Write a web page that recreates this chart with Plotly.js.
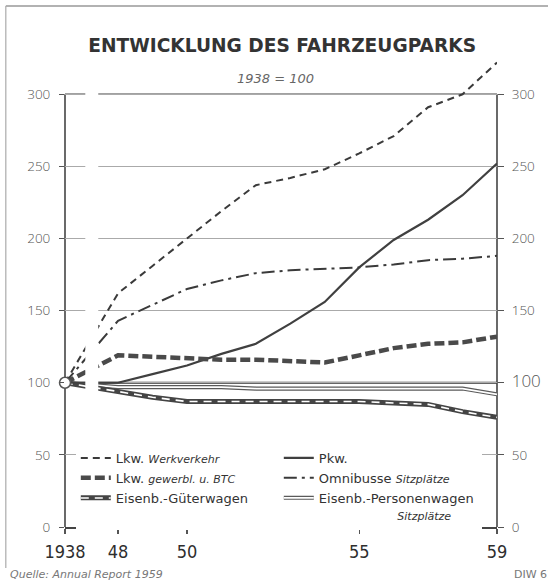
<!DOCTYPE html>
<html>
<head>
<meta charset="utf-8">
<script src="https://cdn.plot.ly/plotly-3.0.1.min.js"></script>
<style>html,body{margin:0;padding:0;background:#fff;}#chart{width:548px;height:582px;}</style>
</head>
<body>
<div id="chart"></div>
<script>
// ---- data (index 1938 = 100) ----
const years = [1938, 1948, 1949, 1950, 1951, 1952, 1953, 1954, 1955, 1956, 1957, 1958, 1959];
const lkwWerkverkehr = [100, 162, 181, 200, 219, 237, 242, 248, 259, 271, 291, 300, 322];
const pkw            = [100, 100, 106, 112, 120, 127, 141, 156, 180, 199, 213, 230, 252];
const lkwGewerbl     = [100, 119, 118, 117, 116, 116, 115, 114, 119, 124, 127, 128, 132];
const omnibusse      = [100, 143, 154, 165, 171, 176, 178, 179, 180, 182, 185, 186, 188];
const gueterwagen    = [100, 94, 90, 87, 87, 87, 87, 87, 87, 86, 85, 80, 76];
const personenwagen  = [100, 97, 97, 97, 97, 96, 96, 96, 96, 96, 96, 96, 92];
const baseYear = 1938, baseIndex = 100;

const yTicks = [0, 50, 100, 150, 200, 250, 300];
const yTickTextRight = ['0', '50', '<span style="font-size:17px">100</span>', '150', '200', '250', '300'];
const xLabelYears = [1938, 1948, 1950, 1955, 1959];
const xLabelText = ['1938', '48', '50', '55', '59'];
const minorYears = [1948, 1949, 1950, 1951, 1952, 1953, 1954, 1955, 1956, 1957, 1958, 1959];
const gridYears = [1950, 1955];
const frameTop = 300;

// broken axis: 1938 is drawn just left of 1948
const BREAK_POS = 1946.46;
const xpos = y => (y === 1938 ? BREAK_POS : y);
const X = years.map(xpos);

const small = s => '<i><span style="font-size:11px">' + s + '</span></i>';
const names = {
  werk: 'Lkw. ' + small('Werkverkehr'),
  pkw: 'Pkw.',
  gew: 'Lkw. ' + small('gewerbl. u. BTC'),
  omni: 'Omnibusse ' + small('Sitzplätze'),
  gueter: 'Eisenb.-Güterwagen',
  pers: 'Eisenb.-Personenwagen<br>' + '&nbsp;'.repeat(19) + small('Sitzplätze')
};

const traces = [
  {x: X, y: personenwagen, name: names.pers, legendrank: 6, mode: 'lines',
   line: {color: '#5a5a5a', width: 4.2}},
  {x: X, y: personenwagen, name: names.pers, legend: 'legend2', legendrank: 2, mode: 'lines',
   line: {color: '#ffffff', width: 1.8}},
  {x: X, y: gueterwagen, name: names.gueter, legendrank: 5, mode: 'lines',
   line: {color: '#444', width: 5}},
  {x: X, y: gueterwagen, name: names.gueter, legend: 'legend2', legendrank: 1, mode: 'lines',
   line: {color: '#ffffff', width: 1.6, dash: '8px,6px'}},
  {x: X, y: pkw, name: names.pkw, legendrank: 2, mode: 'lines',
   line: {color: '#404040', width: 2.2}},
  {x: X, y: lkwGewerbl, name: names.gew, legendrank: 3, mode: 'lines',
   line: {color: '#4a4a4a', width: 4.5, dash: '10px,4px'}},
  {x: X, y: omnibusse, name: names.omni, legendrank: 4, mode: 'lines',
   line: {color: '#3a3a3a', width: 2, dash: '13px,5px,3px,5px'}},
  {x: X, y: lkwWerkverkehr, name: names.werk, legendrank: 1, mode: 'lines',
   line: {color: '#3a3a3a', width: 2, dash: '7px,5px'}},
  {x: [xpos(baseYear)], y: [baseIndex], xaxis: 'x2', yaxis: 'y2', mode: 'markers', showlegend: false,
   cliponaxis: false, marker: {symbol: 'circle', size: 11, color: '#fff', line: {color: '#555', width: 1.5}}}
];

const tickFontY = {family: 'Open Sans', size: 13.5, color: '#555', weight: 300};
const range = [BREAK_POS, 1959];
const yRange = [0, 330];

const legendBase = {
  orientation: 'h', x: 0.025, xanchor: 'left', y: 0.1765, yanchor: 'top',
  entrywidth: 158, entrywidthmode: 'pixels', valign: 'top', tracegroupgap: 0,
  font: {family: 'DejaVu Sans', size: 13, color: '#333'}
};

const frameLine = {color: '#444', width: 1.6};

const layout = {
  width: 548, height: 582,
  margin: {l: 65, r: 51, t: 51, b: 55, pad: 0},
  paper_bgcolor: '#fff', plot_bgcolor: '#fff',
  showlegend: true,
  title: {text: 'ENTWICKLUNG DES FAHRZEUGPARKS', x: 0.515, xanchor: 'center', y: 0.922, yanchor: 'middle',
          font: {family: 'DejaVu Sans', size: 18.6, color: '#333', weight: 'bold'}},
  xaxis: {range: range, tickvals: xLabelYears.map(xpos), ticktext: xLabelText, ticks: 'outside', ticklen: 5,
          tickcolor: '#555', tickwidth: 1.2, showline: true, linecolor: '#444', linewidth: 2, mirror: false,
          showgrid: false, zeroline: false, ticklabelstandoff: 2,
          tickfont: {family: 'DejaVu Sans Condensed', size: 18, color: '#2e2e2e'}},
  xaxis2: {overlaying: 'x', anchor: 'y', range: range, tickvals: minorYears, ticks: 'inside', ticklen: 5,
           tickcolor: '#555', tickwidth: 1.2, showticklabels: false, showline: false, zeroline: false,
           showgrid: false},
  xaxis3: {overlaying: 'x', anchor: 'y', range: range, tickvals: gridYears, ticks: '', showticklabels: false,
           showline: false, zeroline: false, showgrid: true, gridcolor: '#aaa', gridwidth: 1},
  yaxis: {range: yRange, tickvals: yTicks, ticks: 'outside', ticklen: 5, tickcolor: '#555',
          showline: false, showgrid: true, gridcolor: '#aaa', gridwidth: 1,
          zeroline: false, tickfont: tickFontY, ticklabelstandoff: 6},
  yaxis2: {overlaying: 'y', side: 'right', anchor: 'x', range: yRange, tickvals: yTicks, ticktext: yTickTextRight,
           ticks: 'outside', ticklen: 6, tickcolor: '#555', showline: false, showgrid: false,
           zeroline: false, tickfont: tickFontY, ticklabelstandoff: 5},
  legend: Object.assign({}, legendBase, {bgcolor: '#fff'}),
  legend2: Object.assign({}, legendBase, {y: 0.1765 - 40 / 476, bgcolor: 'rgba(0,0,0,0)',
           font: {family: 'DejaVu Sans', size: 13, color: 'rgba(0,0,0,0)'}}),
  shapes: [
    // reference line at index 100
    {type: 'line', xref: 'paper', x0: 0, x1: 1, yref: 'y', y0: baseIndex, y1: baseIndex, layer: 'between',
     line: {color: '#333', width: 2}},
    // chart frame (left, right, top at 300)
    {type: 'line', xref: 'paper', x0: 0, x1: 0, yref: 'y', y0: 0, y1: frameTop, layer: 'between', line: frameLine},
    {type: 'line', xref: 'paper', x0: 1, x1: 1, yref: 'y', y0: 0, y1: frameTop, layer: 'between', line: frameLine},
    {type: 'line', xref: 'paper', x0: 0, x1: 1, yref: 'y', y0: frameTop, y1: frameTop, layer: 'between', line: frameLine},
    // axis break gap
    {type: 'rect', xref: 'paper', x0: 0.047, x1: 0.077, yref: 'paper', y0: -0.012, y1: 0.922, layer: 'above',
     fillcolor: '#fff', line: {width: 0}},
    // scan border (top and left)
    {type: 'line', xref: 'paper', x0: -0.137, x1: 1.2, yref: 'paper', y0: 1.0945, y1: 1.0945,
     line: {color: '#999', width: 1.5}},
    {type: 'line', xref: 'paper', x0: -0.137, x1: -0.137, yref: 'paper', y0: 1.0945, y1: -0.086,
     line: {color: '#aaa', width: 1.2}}
  ],
  annotations: [
    {text: '<i>1938 = 100</i>', xref: 'paper', yref: 'paper', x: 0.488, y: 0.943, yanchor: 'middle',
     showarrow: false, font: {family: 'DejaVu Sans', size: 13, color: '#666'}},
    {text: '<i>Quelle: Annual Report 1959</i>', xref: 'paper', yref: 'paper', x: -0.132, y: -0.1,
     xanchor: 'left', yanchor: 'middle', showarrow: false, font: {family: 'DejaVu Sans', size: 11, color: '#777'}},
    {text: 'DIW 61', xref: 'paper', yref: 'paper', x: 1.035, y: -0.1, xanchor: 'left', yanchor: 'middle',
     showarrow: false, font: {family: 'DejaVu Sans', size: 11, color: '#777'}}
  ]
};

Plotly.newPlot('chart', traces, layout, {staticPlot: true, displayModeBar: false});
</script>
</body>
</html>
